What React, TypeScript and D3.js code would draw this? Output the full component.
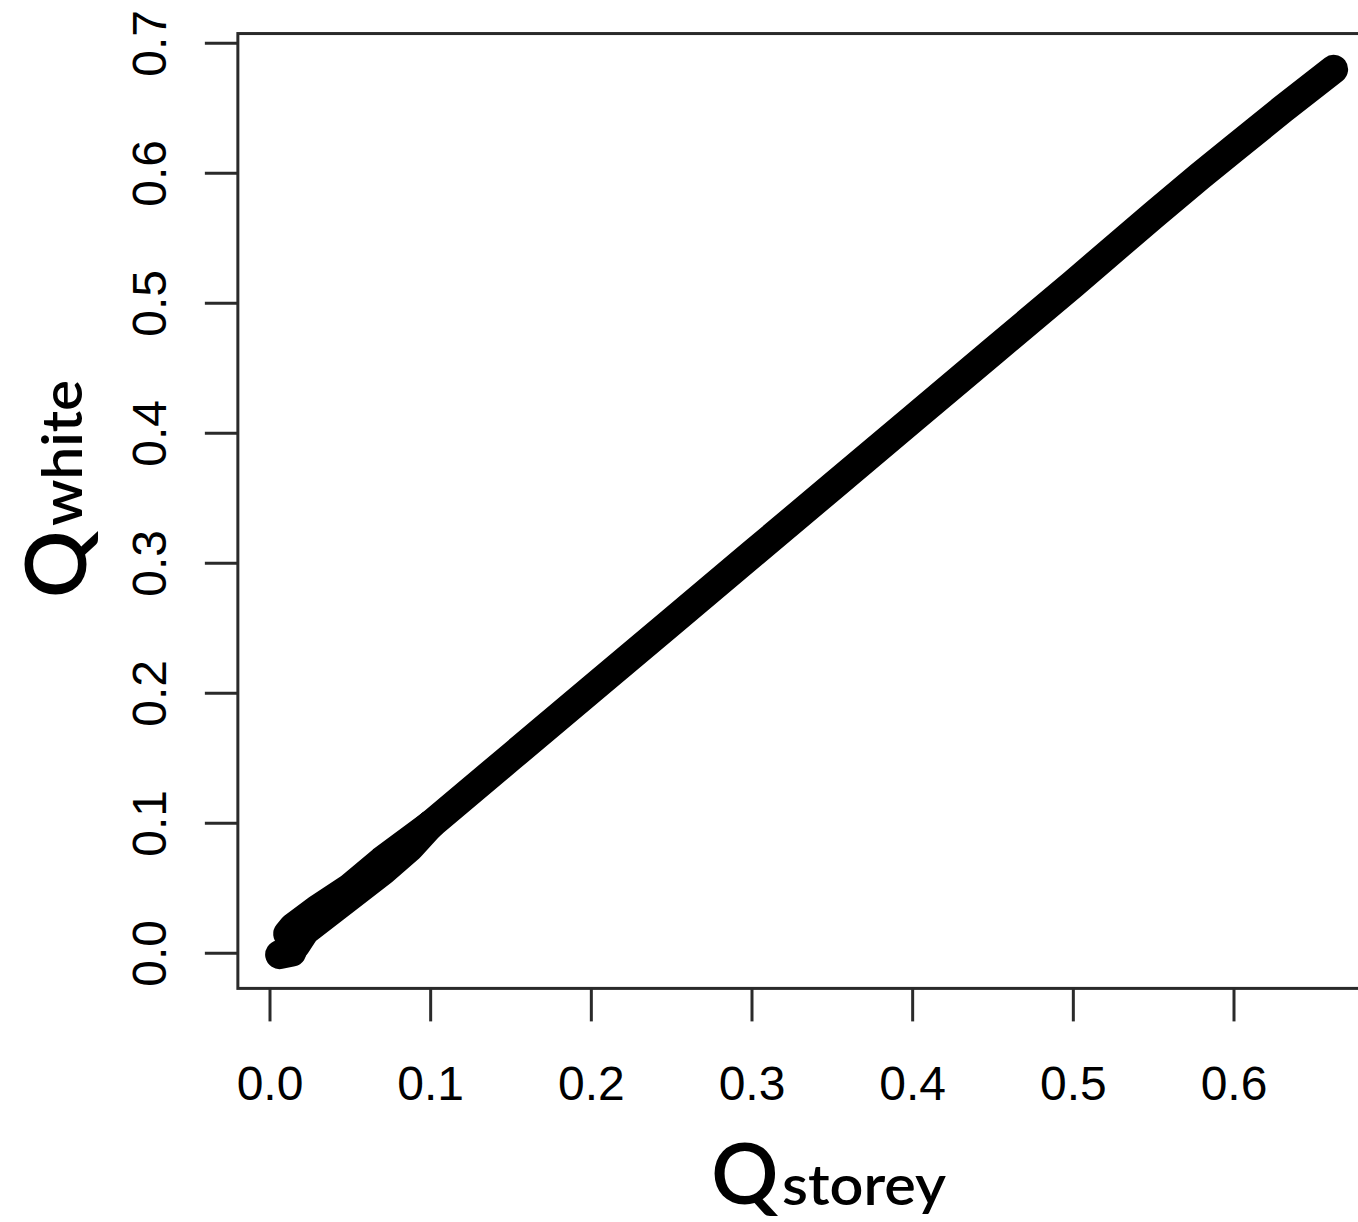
import React, { useEffect, useRef } from 'react';
import * as d3 from 'd3';

// centre line of the dense point band
const qStorey = [0.006, 0.0137, 0.012, 0.015, 0.02, 0.03, 0.05, 0.07, 0.1, 0.15, 0.2, 0.25, 0.3, 0.35, 0.4, 0.45, 0.5, 0.55, 0.579, 0.6, 0.63, 0.662];
const qWhite = [-0.001, 0.001, 0.014, 0.019, 0.024, 0.033, 0.048, 0.068, 0.099, 0.151, 0.203, 0.255, 0.307, 0.359, 0.411, 0.463, 0.515, 0.568, 0.598, 0.619, 0.649, 0.68];

// upper and lower edges of the wider spread near the origin
const upperStorey = [0.011, 0.0143, 0.0293, 0.0498, 0.0697, 0.1];
const upperWhite = [0.015, 0.02, 0.0338, 0.0505, 0.0712, 0.099];
const lowerStorey = [0.016, 0.0218, 0.0498, 0.0703, 0.0871, 0.1];
const lowerWhite = [0.006, 0.0171, 0.0438, 0.0635, 0.0815, 0.099];

const xTicks = [0.0, 0.1, 0.2, 0.3, 0.4, 0.5, 0.6];
const yTicks = [0.0, 0.1, 0.2, 0.3, 0.4, 0.5, 0.6, 0.7];
const xLim = [-0.02, 0.697];
const yLim = [-0.027, 0.7075];

const width = 1358;
const height = 1222;

const App = () => {
    const svgRef = useRef(null);

    useEffect(() => {
        const svg = d3.select(svgRef.current);
        svg.selectAll('*').remove();

        const x = d3.scaleLinear().domain([0, 0.6]).range([270, 1234]);
        const y = d3.scaleLinear().domain([0, 0.7]).range([953.3, 43.3]);

        const axisColor = '#2a2a2a';
        const tickFont = '"Liberation Sans", Arial, Helvetica, sans-serif';
        const labelFont = 'Lato, "Open Sans", sans-serif';

        const line = d3.line()
            .x(d => x(d[0]))
            .y(d => y(d[1]));

        // data band: centre plus the spread edges
        const bands = [
            qStorey.map((d, i) => [d, qWhite[i]]),
            upperStorey.map((d, i) => [d, upperWhite[i]]),
            lowerStorey.map((d, i) => [d, lowerWhite[i]])
        ];

        svg.append('g')
            .selectAll('path')
            .data(bands)
            .join('path')
            .attr('fill', 'none')
            .attr('stroke', '#000')
            .attr('stroke-width', 29)
            .attr('stroke-linecap', 'round')
            .attr('stroke-linejoin', 'round')
            .attr('d', line);

        // box
        svg.append('rect')
            .attr('x', x(xLim[0]))
            .attr('y', y(yLim[1]))
            .attr('width', x(xLim[1]) - x(xLim[0]))
            .attr('height', y(yLim[0]) - y(yLim[1]))
            .attr('fill', 'none')
            .attr('stroke', axisColor)
            .attr('stroke-width', 3);

        const bottom = y(yLim[0]);
        const left = x(xLim[0]);

        // x ticks
        svg.append('g')
            .selectAll('line')
            .data(xTicks)
            .join('line')
            .attr('x1', d => x(d))
            .attr('x2', d => x(d))
            .attr('y1', bottom)
            .attr('y2', bottom + 33)
            .attr('stroke', axisColor)
            .attr('stroke-width', 3);

        svg.append('g')
            .selectAll('text')
            .data(xTicks)
            .join('text')
            .attr('x', d => x(d))
            .attr('y', 1100)
            .attr('text-anchor', 'middle')
            .attr('font-family', tickFont)
            .attr('font-size', 48)
            .attr('fill', '#000')
            .text(d => d3.format('.1f')(d));

        // y ticks
        svg.append('g')
            .selectAll('line')
            .data(yTicks)
            .join('line')
            .attr('x1', left - 33)
            .attr('x2', left)
            .attr('y1', d => y(d))
            .attr('y2', d => y(d))
            .attr('stroke', axisColor)
            .attr('stroke-width', 3);

        svg.append('g')
            .selectAll('text')
            .data(yTicks)
            .join('text')
            .attr('transform', d => `translate(166, ${y(d)}) rotate(-90)`)
            .attr('text-anchor', 'middle')
            .attr('font-family', tickFont)
            .attr('font-size', 48)
            .attr('fill', '#000')
            .text(d => d3.format('.1f')(d));

        // x label: Q storey
        svg.append('text')
            .attr('x', 711)
            .attr('y', 1204)
            .attr('font-family', labelFont)
            .attr('font-size', 84)
            .attr('font-weight', 600)
            .attr('fill', '#000')
            .text('Q');
        svg.append('text')
            .attr('x', 782)
            .attr('y', 1205)
            .attr('font-family', labelFont)
            .attr('font-size', 56)
            .attr('font-weight', 600)
            .attr('textLength', 164)
            .attr('lengthAdjust', 'spacingAndGlyphs')
            .attr('fill', '#000')
            .text('storey');

        // y label: Q white
        svg.append('text')
            .attr('transform', 'translate(86, 598) rotate(-90)')
            .attr('font-family', labelFont)
            .attr('font-size', 84)
            .attr('font-weight', 600)
            .attr('fill', '#000')
            .text('Q');
        svg.append('text')
            .attr('transform', 'translate(82, 526) rotate(-90)')
            .attr('font-family', labelFont)
            .attr('font-size', 56)
            .attr('font-weight', 600)
            .attr('textLength', 146)
            .attr('lengthAdjust', 'spacingAndGlyphs')
            .attr('fill', '#000')
            .text('white');
    }, []);

    return (
        <svg
            ref={svgRef}
            width={width}
            height={height}
            style={{ position: 'absolute', left: 0, top: 0, background: '#fff' }}
        />
    );
};

export default App;
